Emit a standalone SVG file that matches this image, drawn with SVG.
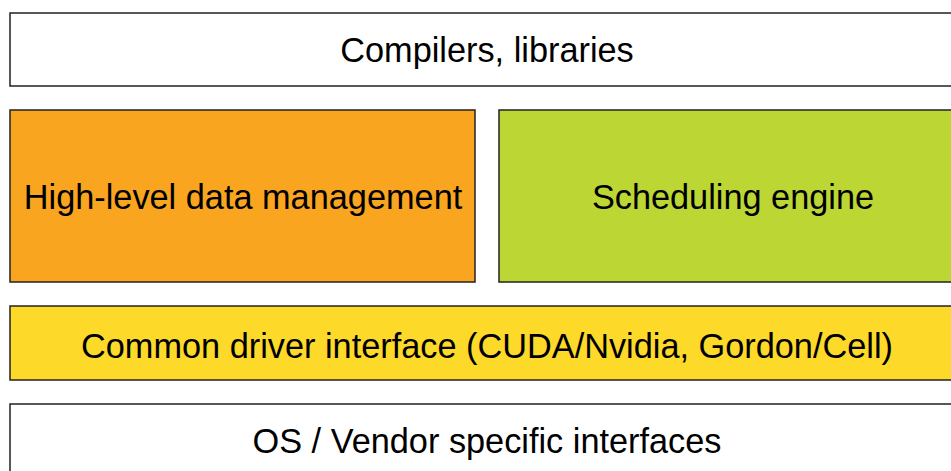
<svg xmlns="http://www.w3.org/2000/svg" width="951" height="471" viewBox="0 0 951 471">
<style>
.b{stroke:#222;stroke-width:1.5}
.t{font-family:"Liberation Sans",Arial,sans-serif;font-size:34.3px;fill:#000;text-anchor:middle}
</style>
<rect width="951" height="471" fill="#fff"/>
<g id="compilers"><rect class="b" x="10" y="13" width="960" height="73" fill="#fff"/><text class="t" x="487" y="62">Compilers, libraries</text></g>
<g id="data"><rect class="b" x="10" y="110" width="465" height="172" fill="#f9a51f"/><text class="t" x="243" y="209">High-level data management</text></g>
<g id="sched"><rect class="b" x="499" y="110" width="470" height="172" fill="#bcd634"/><text class="t" x="733" y="209">Scheduling engine</text></g>
<g id="driver"><rect class="b" x="10" y="306" width="960" height="74" fill="#fdd929"/><text class="t" x="487" y="358">Common driver interface (CUDA/Nvidia, Gordon/Cell)</text></g>
<g id="os"><rect class="b" x="10" y="404" width="960" height="90" fill="#fff"/><text class="t" x="487" y="453">OS / Vendor specific interfaces</text></g>
<g id="connectors"/>
</svg>
